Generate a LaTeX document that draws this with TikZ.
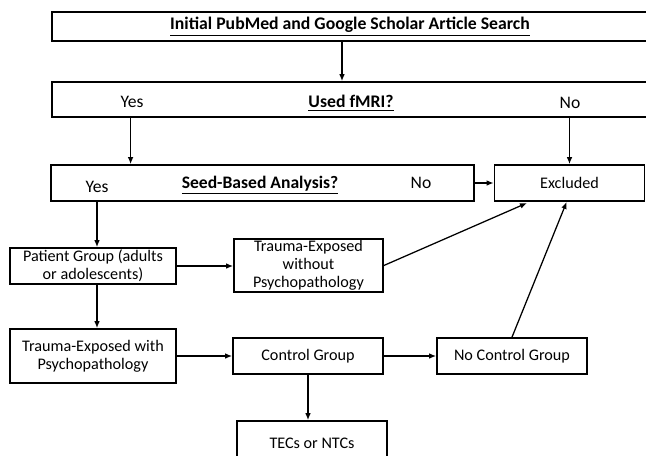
\documentclass[tikz,border=0pt]{standalone}
\usepackage{fontspec}
\setmainfont{Carlito}
\usetikzlibrary{arrows.meta}

\tikzset{
  >={Latex[length=5pt,width=4pt]},
  flowbox/.style={draw, line width=1.2pt, inner sep=0pt, align=center,
    font=\fontsize{11.5}{12.8}\selectfont},
  flowtxt/.style={inner sep=1pt, font=\fontsize{12.5}{14}\selectfont},
  flowline/.style={line width=0.9pt}
}

\begin{document}
\begin{tikzpicture}[x=0.025cm, y=-0.025cm]

  %% Page frame (pixel units, y downwards)
  \useasboundingbox (0,0) rectangle (646,455);


  %% Search and fMRI boxes (run off the right edge)
  \node[flowbox, minimum width=16.225cm, minimum height=0.725cm, anchor=west]
  (search) at (51,26.5) {};
  \node[flowtxt, font=\fontsize{12.6}{14}\selectfont] (searchtxt) at (350,26.5)
  {\underline{\textbf{Initial PubMed and Google Scholar Article Search}}};

  \node[flowbox, minimum width=16.225cm, minimum height=0.875cm, anchor=west]
  (fmri) at (51,99.5) {};
  \node[flowtxt, font=\fontsize{12.6}{14}\selectfont] (fmritxt) at (351,103)
  {\underline{\textbf{Used fMRI?}}};
  \node[flowtxt] (fmriyes) at (132,102) {Yes};
  \node[flowtxt] (fmrino) at (570,103) {No};


  %% Seed-based analysis and exclusion
  \node[flowbox, minimum width=10.575cm, minimum height=0.9cm]
  (seed) at (262.5,183) {};
  \node[flowtxt] (seedtxt) at (260,185) {\underline{\textbf{Seed-Based Analysis?}}};
  \node[flowtxt] (seedyes) at (97,187) {Yes};
  \node[flowtxt] (seedno) at (421,183) {No};

  \node[flowbox, minimum width=3.75cm, minimum height=0.9cm]
  (excl) at (569.5,183) {Excluded};


  %% Groups
  \node[flowbox, minimum width=4.15cm, minimum height=0.9cm]
  (patient) at (93,266) {Patient Group (adults\\or adolescents)};
  \node[flowbox, minimum width=3.725cm, minimum height=1.325cm]
  (without) at (308.5,265.5) {Trauma-Exposed\\without\\Psychopathology};
  \node[flowbox, minimum width=4.15cm, minimum height=1.35cm]
  (with) at (93,356) {Trauma-Exposed with\\Psychopathology};
  \node[flowbox, minimum width=3.75cm, minimum height=0.9cm]
  (control) at (308,356) {Control Group};
  \node[flowbox, minimum width=3.75cm, minimum height=0.9cm]
  (noctrl) at (512,356) {No Control Group};
  \node[flowbox, minimum width=3.75cm, minimum height=1.3cm]
  (tecs) at (312,447) {\raisebox{0.17cm}{TECs or NTCs}};

  \coordinate (exclin) at (527,203);


  %% Arrows
  \draw[flowline, ->] (342,0 |- search.south) -- (342,0 |- fmri.north);
  \draw[flowline, ->] ([xshift=-1]fmriyes |- fmri.south) -- ([xshift=-1]fmriyes |- seed.north);
  \draw[flowline, ->] (excl.north |- fmri.south) -- (excl.north);
  \draw[flowline, ->] (seed.east) -- (excl.west);
  \draw[flowline, ->] (seedyes |- seed.south) -- (seedyes |- patient.north);
  \draw[flowline, ->] (patient.east) -- (patient.east -| without.west);
  \draw[flowline, ->] (without.east) -- (exclin);
  \draw[flowline, ->] (seedyes |- patient.south) -- (seedyes |- with.north);
  \draw[flowline, ->] (with.east) -- (with.east -| control.west);
  \draw[flowline, ->] (control.east) -- (noctrl.west);
  \draw[flowline, ->] (noctrl.north) -- ([xshift=-2]excl.south);
  \draw[flowline, ->] (control.south) -- (control.south |- tecs.north);

\end{tikzpicture}
\end{document}
